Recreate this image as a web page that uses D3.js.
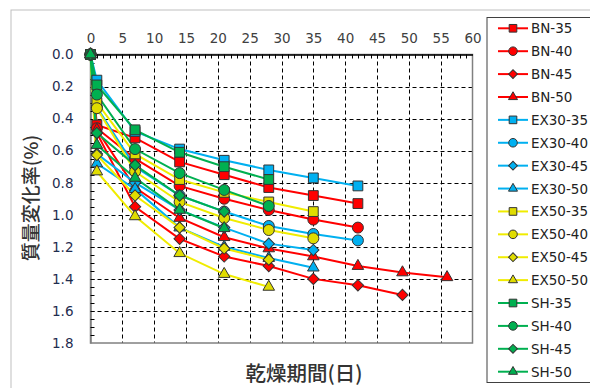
<!DOCTYPE html>
<html>
<head>
<meta charset="utf-8">
<script src="https://cdn.jsdelivr.net/npm/d3@7"></script>
<style>
  body { margin: 0; background: #fff; }
  svg { display: block; }
</style>
</head>
<body>
<div id="chart"></div>
<script>
// drying days (x values)
var days = [0, 1, 7, 14, 21, 28, 35, 42, 49, 56];

// mass change rate (%) per series, one value per day until the series stops
var bn35 = [0, 0.44, 0.52, 0.67, 0.75, 0.83, 0.88, 0.93];
var bn40 = [0, 0.46, 0.65, 0.82, 0.90, 0.97, 1.03, 1.08];
var bn45 = [0, 0.49, 0.95, 1.15, 1.26, 1.32, 1.40, 1.44, 1.50];
var bn50 = [0, 0.47, 0.83, 1.02, 1.14, 1.21, 1.26, 1.32, 1.36, 1.39];
var ex3035 = [0, 0.16, 0.48, 0.59, 0.66, 0.72, 0.77, 0.82];
var ex3040 = [0, 0.33, 0.70, 0.88, 0.98, 1.07, 1.12, 1.16];
var ex3045 = [0, 0.62, 0.80, 0.97, 1.08, 1.18, 1.22];
var ex3050 = [0, 0.68, 0.84, 1.08, 1.20, 1.27, 1.33];
var ex5035 = [0, 0.30, 0.62, 0.78, 0.86, 0.92, 0.98];
var ex5040 = [0, 0.335, 0.73, 0.92, 1.02, 1.095, 1.147];
var ex5045 = [0, 0.627, 0.88, 1.08, 1.21, 1.28];
var ex5050 = [0, 0.73, 1.01, 1.24, 1.37, 1.45];
var sh35 = [0, 0.19, 0.47, 0.61, 0.70, 0.78];
var sh40 = [0, 0.25, 0.59, 0.74, 0.845, 0.945];
var sh45 = [0, 0.49, 0.69, 0.88, 0.98];
var sh50 = [0, 0.565, 0.77, 0.97, 1.084];

var xTicks = [0, 5, 10, 15, 20, 25, 30, 35, 40, 45, 50, 55, 60];
var yTicks = [0, 0.2, 0.4, 0.6, 0.8, 1.0, 1.2, 1.4, 1.6, 1.8];

var names = ["BN-35", "BN-40", "BN-45", "BN-50",
  "EX30-35", "EX30-40", "EX30-45", "EX30-50",
  "EX50-35", "EX50-40", "EX50-45", "EX50-50",
  "SH-35", "SH-40", "SH-45", "SH-50"];
var values = [bn35, bn40, bn45, bn50, ex3035, ex3040, ex3045, ex3050,
  ex5035, ex5040, ex5045, ex5050, sh35, sh40, sh45, sh50];

var lineColor = { BN: "#ff0000", EX30: "#00b0f0", EX50: "#f0ec00", SH: "#00b050" };
var fillColor = { BN: "#ff0000", EX30: "#00b0f0", EX50: "#e0dc00", SH: "#00b050" };
var shapes = ["square", "circle", "diamond", "triangle"];

var series = names.map(function (n, i) {
  var grp = n.split("-")[0];
  return {
    name: n,
    group: grp,
    shape: shapes[i % 4],
    pts: values[i].map(function (v, j) { return [days[j], v]; })
  };
});

var W = 590, H = 388;
var svg = d3.select("#chart").append("svg").attr("width", W).attr("height", H);

// chart area frame (cut by the window on the right/bottom)
svg.append("rect").attr("x", 11).attr("y", 10).attr("width", 600).attr("height", 400)
  .attr("fill", "none").attr("stroke", "#bfbfbf").attr("stroke-width", 1);

var x = d3.scaleLinear().domain([0, 60]).range([90.5, 472.5]);
var y = d3.scaleLinear().domain([0, 1.8]).range([54.5, 343]);

// grid
svg.append("g").selectAll("line").data(xTicks.slice(1, -1)).enter().append("line")
  .attr("x1", function (d) { return Math.round(x(d)) + 0.5; })
  .attr("x2", function (d) { return Math.round(x(d)) + 0.5; })
  .attr("y1", y(0)).attr("y2", y(1.8))
  .attr("stroke", "#000").attr("stroke-dasharray", "4,3").attr("stroke-width", 1);
svg.append("g").selectAll("line").data(yTicks.slice(1, -1)).enter().append("line")
  .attr("y1", function (d) { return Math.round(y(d)) + 0.5; })
  .attr("y2", function (d) { return Math.round(y(d)) + 0.5; })
  .attr("x1", x(0)).attr("x2", x(60))
  .attr("stroke", "#000").attr("stroke-dasharray", "4,3").attr("stroke-width", 1);

// plot border
svg.append("rect").attr("x", x(0)).attr("y", y(0))
  .attr("width", x(60) - x(0)).attr("height", y(1.8) - y(0))
  .attr("fill", "none").attr("stroke", "#808080").attr("stroke-width", 1.5);

// top x axis, ticks pointing inside
var xAxis = d3.axisTop(x).tickValues(xTicks).tickSize(0).tickPadding(12)
  .tickFormat(d3.format("d"));
var gx = svg.append("g").attr("transform", "translate(0," + y(0) + ")").call(xAxis);
gx.select(".domain").attr("stroke", "#000").attr("stroke-width", 1.5);
gx.selectAll("text").attr("font-family", "DejaVu Sans, sans-serif")
  .attr("font-size", "13.5px").attr("fill", "#404040");
svg.append("g").selectAll("line").data(d3.range(1, 60)).enter().append("line")
  .attr("x1", function (d) { return Math.round(x(d)) + 0.5; })
  .attr("x2", function (d) { return Math.round(x(d)) + 0.5; })
  .attr("y1", y(0)).attr("y2", y(0) + 4)
  .attr("stroke", "#000").attr("stroke-width", 1);

// left y axis
var yAxis = d3.axisLeft(y).tickValues(yTicks).tickSize(0).tickPadding(17)
  .tickFormat(d3.format(".1f"));
var gy = svg.append("g").attr("transform", "translate(" + x(0) + ",0)").call(yAxis);
gy.select(".domain").attr("stroke", "#808080").attr("stroke-width", 1.5);
gy.selectAll("text").attr("font-family", "DejaVu Sans, sans-serif")
  .attr("font-size", "13.5px").attr("fill", "#1f2d50");
svg.append("g").selectAll("line").data(d3.range(1, 36).map(function (i) { return i * 0.05; }))
  .enter().append("line")
  .attr("y1", function (d) { return Math.round(y(d)) + 0.5; })
  .attr("y2", function (d) { return Math.round(y(d)) + 0.5; })
  .attr("x1", x(0)).attr("x2", x(0) + 4)
  .attr("stroke", "#000").attr("stroke-width", 1);

// lines
var line = d3.line().x(function (d) { return x(d[0]); }).y(function (d) { return y(d[1]); });
svg.append("g").selectAll("path").data(series).enter().append("path")
  .attr("d", function (s) { return line(s.pts); })
  .attr("fill", "none")
  .attr("stroke", function (s) { return lineColor[s.group]; })
  .attr("stroke-width", 2);

function markerPath(shape, k) {
  if (shape === "square") return d3.symbol(d3.symbolSquare, 96 * k * k)();
  if (shape === "circle") return d3.symbol(d3.symbolCircle, 95 * k * k)();
  if (shape === "diamond") return d3.symbol(d3.symbolSquare, 64 * k * k)();
  return d3.symbol(d3.symbolTriangle, 58 * k * k)();
}

// markers: draw groups in layering order seen in the picture
var order = ["BN", "EX30", "EX50", "SH"];
order.forEach(function (grp) {
  series.filter(function (s) { return s.group === grp; }).forEach(function (s) {
    svg.append("g").selectAll("path").data(s.pts).enter().append("path")
      .attr("d", markerPath(s.shape, 1))
      .attr("transform", function (d) {
        return "translate(" + x(d[0]) + "," + y(d[1]) + ")" + (s.shape === "diamond" ? " rotate(45)" : "");
      })
      .attr("fill", fillColor[s.group])
      .attr("stroke", "#333").attr("stroke-width", 1);
  });
});

// axis titles
svg.append("text")
  .attr("transform", "translate(29," + 198 + ") rotate(-90)")
  .attr("text-anchor", "middle").attr("dominant-baseline", "central")
  .attr("font-family", "Noto Sans CJK JP, sans-serif").attr("font-size", "19px")
  .attr("font-weight", 500).attr("fill", "#333")
  .text("質量変化率(%)");
svg.append("text")
  .attr("x", 304).attr("y", 372)
  .attr("text-anchor", "middle").attr("dominant-baseline", "central")
  .attr("font-family", "Noto Sans CJK JP, sans-serif").attr("font-size", "20.5px")
  .attr("font-weight", 500).attr("fill", "#333")
  .text("乾燥期間(日)");

// legend
var lg = svg.append("g");
lg.append("rect").attr("x", 487).attr("y", 17.5).attr("width", 120).attr("height", 365)
  .attr("fill", "#fff").attr("stroke", "#404040").attr("stroke-width", 1);
var ly = d3.scaleLinear().domain([0, 15]).range([28.3, 371.7]);
series.forEach(function (s, i) {
  var g = lg.append("g").attr("transform", "translate(0," + ly(i) + ")");
  g.append("line").attr("x1", 498).attr("x2", 528).attr("y1", 0).attr("y2", 0)
    .attr("stroke", lineColor[s.group]).attr("stroke-width", 2);
  g.append("path").attr("d", markerPath(s.shape, 0.78))
    .attr("transform", "translate(513,0)" + (s.shape === "diamond" ? " rotate(45)" : ""))
    .attr("fill", fillColor[s.group]).attr("stroke", "#333").attr("stroke-width", 1);
  g.append("text").attr("x", 531).attr("y", 0).attr("dominant-baseline", "central")
    .attr("font-family", "DejaVu Sans, sans-serif").attr("font-size", "13.5px")
    .attr("fill", "#222").text(s.name);
});
</script>
</body>
</html>
